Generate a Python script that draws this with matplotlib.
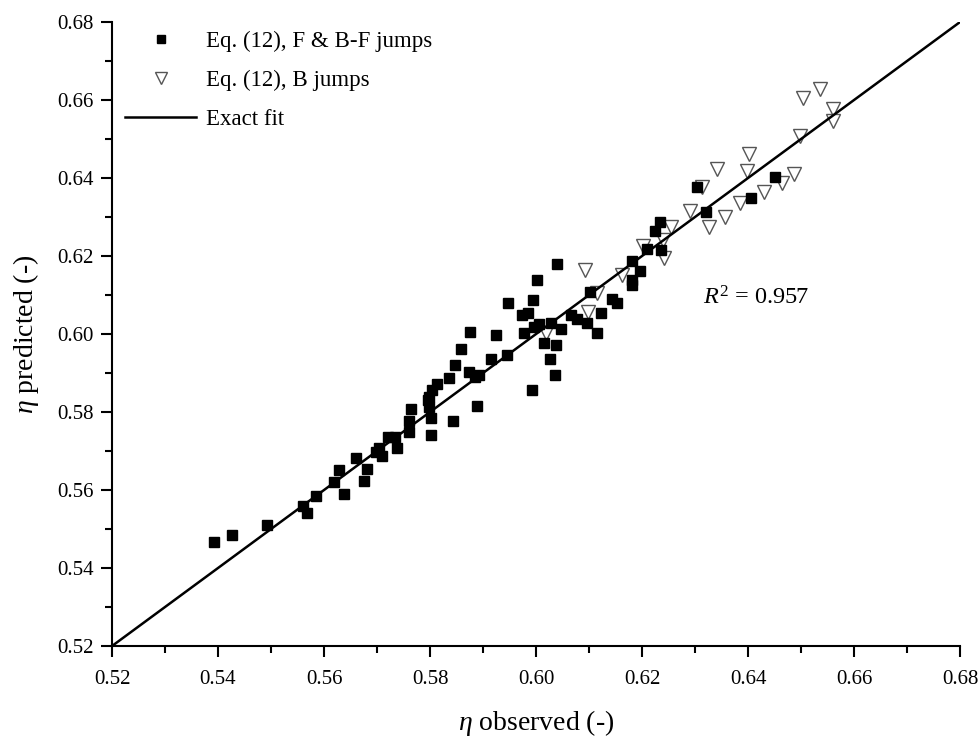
import matplotlib
matplotlib.use("Agg")
import matplotlib.pyplot as plt
from matplotlib.ticker import MultipleLocator, FormatStrFormatter

plt.rcParams['font.family'] = ['Liberation Serif', 'DejaVu Serif']
plt.rcParams['mathtext.fontset'] = 'custom'
plt.rcParams['mathtext.rm'] = 'Liberation Serif'
plt.rcParams['mathtext.it'] = 'Liberation Serif:italic'

# Eq. (12), forward and backward-forward jumps
fb_observed = [0.5393, 0.5426, 0.5492, 0.5561, 0.5567, 0.5584, 0.5619, 0.5628, 0.5637,
               0.5660, 0.5676, 0.5682, 0.5698, 0.5709, 0.5703, 0.5721, 0.5734, 0.5738,
               0.5761, 0.5761, 0.5764, 0.5801, 0.5802, 0.5799, 0.5797, 0.5799, 0.5804,
               0.5813, 0.5844, 0.5836, 0.5848, 0.5858, 0.5875, 0.5874, 0.5884, 0.5893,
               0.5888, 0.5916, 0.5925, 0.5945, 0.5948, 0.5973, 0.5984, 0.5995, 0.6002,
               0.6040, 0.5977, 0.5996, 0.6006, 0.6028, 0.6048, 0.5992, 0.6016, 0.6037,
               0.6027, 0.6035, 0.6066, 0.6077, 0.6096, 0.6102, 0.6115, 0.6123, 0.6143,
               0.6152, 0.6182, 0.6196, 0.6182, 0.6181, 0.6209, 0.6236, 0.6225, 0.6234,
               0.6321, 0.6303, 0.6406, 0.6451]
fb_predicted = [0.5466, 0.5485, 0.5511, 0.5560, 0.5540, 0.5585, 0.5620, 0.5651, 0.5591,
                0.5682, 0.5623, 0.5655, 0.5698, 0.5687, 0.5707, 0.5737, 0.5735, 0.5707,
                0.5749, 0.5778, 0.5809, 0.5740, 0.5784, 0.5814, 0.5831, 0.5839, 0.5856,
                0.5871, 0.5777, 0.5888, 0.5920, 0.5961, 0.6006, 0.5902, 0.5891, 0.5894,
                0.5815, 0.5937, 0.5997, 0.5946, 0.6079, 0.6049, 0.6053, 0.6087, 0.6138,
                0.6179, 0.6003, 0.6017, 0.6026, 0.6027, 0.6013, 0.5856, 0.5976, 0.5972,
                0.5937, 0.5894, 0.6049, 0.6038, 0.6029, 0.6108, 0.6002, 0.6053, 0.6089,
                0.6080, 0.6188, 0.6162, 0.6138, 0.6126, 0.6217, 0.6215, 0.6264, 0.6286,
                0.6314, 0.6378, 0.6348, 0.6403]

# Eq. (12), backward jumps
b_observed = [0.6018, 0.6092, 0.6098, 0.6116, 0.6162, 0.6201, 0.6242, 0.6240, 0.6255,
              0.6291, 0.6313, 0.6327, 0.6357, 0.6341, 0.6385, 0.6398, 0.6402, 0.6431,
              0.6465, 0.6487, 0.6498, 0.6504, 0.6535, 0.6560, 0.6561]
b_predicted = [0.6002, 0.6164, 0.6056, 0.6104, 0.6151, 0.6226, 0.6194, 0.6241, 0.6275,
               0.6315, 0.6376, 0.6275, 0.6299, 0.6422, 0.6337, 0.6419, 0.6462, 0.6363,
               0.6386, 0.6410, 0.6508, 0.6604, 0.6627, 0.6576, 0.6546]

fit_range = [0.52, 0.68]
r_squared = 0.957

fig = plt.figure(figsize=(9.8, 7.44), dpi=100)
ax = fig.add_axes([0.1143, 0.1317, 0.8653, 0.8387])

ax.plot(fb_observed, fb_predicted, linestyle='none', marker='s', markersize=7.2,
        color='black', label='Eq. (12), F & B-F jumps', zorder=3)
ax.plot(b_observed, b_predicted, linestyle='none', marker='v', markersize=9.5,
        markerfacecolor='white', markeredgecolor='#555555', markeredgewidth=1.0,
        label='Eq. (12), B jumps', zorder=2)
ax.plot(fit_range, fit_range, color='black', linewidth=1.8, label='Exact fit', zorder=4)

ax.text(0.6415, 0.6092, r'$R^2$ = %.3f' % r_squared, fontsize=17.5,
        ha='center', va='center')

ax.set_xlim(0.52, 0.68)
ax.set_ylim(0.52, 0.68)
ax.xaxis.set_major_locator(MultipleLocator(0.02))
ax.xaxis.set_minor_locator(MultipleLocator(0.01))
ax.yaxis.set_major_locator(MultipleLocator(0.02))
ax.yaxis.set_minor_locator(MultipleLocator(0.01))
ax.xaxis.set_major_formatter(FormatStrFormatter('%.2f'))
ax.yaxis.set_major_formatter(FormatStrFormatter('%.2f'))

for side in ('top', 'right'):
    ax.spines[side].set_visible(False)
for side in ('left', 'bottom'):
    ax.spines[side].set_linewidth(1.5)

ax.tick_params(which='major', direction='out', length=8, width=1.5, labelsize=15)
ax.tick_params(axis='x', which='major', pad=9)
ax.tick_params(axis='y', which='major', pad=5)
ax.tick_params(which='minor', direction='out', length=5, width=1.5)

ax.set_xlabel(r'$\eta$ observed (-)', fontsize=20, labelpad=14)
ax.set_ylabel(r'$\eta$ predicted (-)', fontsize=20, labelpad=12)

leg = ax.legend(loc='upper left', frameon=False, fontsize=16.5, markerscale=0.85,
                handlelength=3.1, handletextpad=0.4, labelspacing=0.78,
                borderaxespad=0.0, bbox_to_anchor=(0.005, 1.0))

fig.savefig('out.png', dpi=100, facecolor='white')
